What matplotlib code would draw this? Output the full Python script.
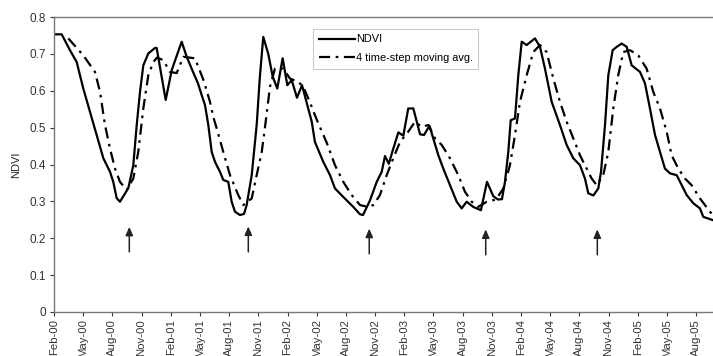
import numpy as np
import matplotlib
matplotlib.use("Agg")
import matplotlib.pyplot as plt

# =========================
# Data (x = months since Feb-2000)
# =========================
ndvi_month = [0.0, 0.79, 1.64, 2.33, 3.01, 3.70, 4.39, 5.07, 5.76, 6.09, 6.44, 6.78,
              7.64, 8.15, 8.50, 8.84, 9.18, 9.69, 10.38, 10.55, 11.48, 12.10, 13.12,
              13.64, 14.29, 14.80, 15.18, 15.52, 15.86, 16.21, 16.55, 17.06, 17.40,
              17.91, 18.26, 18.60, 19.12, 19.53, 19.80, 20.32, 20.83, 21.17, 21.51,
              22.02, 22.48, 22.95, 23.50, 23.98, 24.43, 24.97, 25.49, 26.00, 26.49,
              26.82, 27.68, 28.37, 28.88, 29.73, 30.76, 31.45, 31.76, 32.48, 33.17,
              33.68, 34.02, 34.41, 34.79, 35.39, 35.90, 36.41, 36.93, 37.62, 38.03,
              38.59, 39.10, 39.50, 40.01, 40.70, 41.39, 41.90, 42.41, 43.09, 43.88,
              44.50, 45.15, 45.63, 46.04, 46.35, 46.69, 46.94, 47.38, 47.72, 48.07,
              48.58, 49.43, 49.95, 50.46, 51.15, 52.00, 52.69, 53.37, 54.06, 54.57,
              54.91, 55.43, 55.94, 56.22, 56.63, 56.97, 57.42, 57.83, 58.35, 58.86,
              59.37, 60.23, 60.74, 61.25, 61.77, 62.28, 62.79, 63.31, 64.00, 64.51,
              65.03, 65.70, 66.39, 66.73, 67.73]
ndvi_value = [0.753, 0.753, 0.710, 0.678, 0.606, 0.543, 0.480, 0.417, 0.380, 0.353, 0.309, 0.299,
              0.336, 0.398, 0.507, 0.597, 0.669, 0.701, 0.716, 0.716, 0.575, 0.656, 0.733,
              0.692, 0.651, 0.620, 0.588, 0.561, 0.507, 0.434, 0.407, 0.380, 0.358,
              0.353, 0.299, 0.272, 0.263, 0.266, 0.290, 0.371, 0.507, 0.642, 0.746,
              0.700, 0.638, 0.606, 0.688, 0.615, 0.629, 0.581, 0.615, 0.565, 0.516,
              0.461, 0.407, 0.371, 0.335, 0.312, 0.285, 0.265, 0.263, 0.303, 0.353,
              0.380, 0.423, 0.402, 0.436, 0.487, 0.478, 0.552, 0.552, 0.482, 0.480,
              0.505, 0.460, 0.425, 0.389, 0.344, 0.299, 0.281, 0.299, 0.285, 0.276,
              0.353, 0.314, 0.305, 0.306, 0.353, 0.434, 0.520, 0.525, 0.642, 0.733,
              0.724, 0.742, 0.719, 0.660, 0.570, 0.507, 0.453, 0.417, 0.398, 0.362,
              0.322, 0.316, 0.335, 0.380, 0.507, 0.642, 0.710, 0.719, 0.728, 0.719,
              0.669, 0.651, 0.620, 0.552, 0.480, 0.434, 0.389, 0.376, 0.371, 0.344,
              0.317, 0.295, 0.281, 0.258, 0.249]

mavg_month = [1.47, 3.01, 4.21, 4.73, 5.24, 5.76, 6.27, 6.78, 7.47, 8.15, 8.66, 9.18,
              9.69, 10.21, 10.59, 11.23, 11.92, 12.61, 13.29, 14.49, 15.42, 16.03,
              16.37, 16.72, 17.40, 18.09, 18.94, 19.46, 20.32, 20.83, 21.35, 21.69,
              22.20, 22.71, 23.57, 24.25, 25.11, 25.62, 26.31, 27.03, 28.03, 28.88,
              29.73, 30.60, 31.45, 32.27, 32.82, 33.50, 34.19, 34.87, 35.56, 36.41,
              37.10, 37.79, 38.47, 39.16, 39.85, 40.70, 41.55, 42.24, 42.93, 43.61,
              44.47, 45.43, 46.18, 46.86, 47.38, 47.89, 48.58, 49.26, 49.95, 50.63,
              51.32, 52.00, 52.69, 53.37, 54.06, 54.57, 55.26, 55.77, 56.45, 56.97,
              57.48, 57.99, 58.51, 59.20, 60.05, 60.91, 61.59, 62.28, 62.97, 63.48,
              64.16, 64.85, 65.53, 66.39, 67.42, 67.73]
mavg_value = [0.742, 0.696, 0.651, 0.597, 0.507, 0.443, 0.389, 0.353, 0.331, 0.362, 0.434, 0.552,
              0.642, 0.678, 0.690, 0.683, 0.651, 0.648, 0.692, 0.688, 0.625, 0.570,
              0.529, 0.498, 0.434, 0.371, 0.317, 0.290, 0.308, 0.371, 0.434, 0.502,
              0.611, 0.660, 0.660, 0.633, 0.624, 0.611, 0.568, 0.520, 0.459, 0.398,
              0.353, 0.317, 0.290, 0.285, 0.290, 0.317, 0.371, 0.417, 0.461, 0.489,
              0.516, 0.502, 0.507, 0.471, 0.453, 0.417, 0.371, 0.326, 0.299, 0.285,
              0.299, 0.305, 0.335, 0.398, 0.480, 0.570, 0.642, 0.705, 0.724, 0.705,
              0.633, 0.570, 0.516, 0.471, 0.425, 0.398, 0.362, 0.344, 0.371, 0.434,
              0.552, 0.642, 0.705, 0.710, 0.696, 0.660, 0.597, 0.552, 0.489, 0.425,
              0.389, 0.362, 0.344, 0.308, 0.272, 0.262]

# arrows marking the minima (month position, tail value, tip value)
arrow_month = [7.74, 19.97, 32.4, 44.37, 55.84]
arrow_tail = [0.163, 0.163, 0.158, 0.155, 0.155]
arrow_tip = [0.231, 0.232, 0.226, 0.224, 0.224]

tick_labels = ["Feb-00", "May-00", "Aug-00", "Nov-00",
               "Feb-01", "May-01", "Aug-01", "Nov-01",
               "Feb-02", "May-02", "Aug-02", "Nov-02",
               "Feb-03", "May-03", "Aug-03", "Nov-03",
               "Feb-04", "May-04", "Aug-04", "Nov-04",
               "Feb-05", "May-05", "Aug-05"]
tick_months = [3 * i for i in range(len(tick_labels))]

# =========================
# Plot
# =========================
plt.rcParams["font.family"] = ["Liberation Sans", "DejaVu Sans"]

fig = plt.figure(figsize=(7.13, 3.56), dpi=100)
ax = fig.add_axes([54 / 713, 44 / 356, 659 / 713, 295 / 356])

ax.plot(ndvi_month, ndvi_value, color="black", lw=1.6, label="NDVI")
ax.plot(mavg_month, mavg_value, color="black", lw=1.6,
        dashes=(5, 2.5, 1.2, 2.5), label="4 time-step moving avg.")

for m, t0, t1 in zip(arrow_month, arrow_tail, arrow_tip):
    ax.annotate("", xy=(m, t1), xytext=(m, t0),
                arrowprops=dict(arrowstyle="-|>,head_length=0.5,head_width=0.22",
                                color="#222222", lw=1.1, shrinkA=0, shrinkB=0))

ax.set_xlim(0, 67.73)
ax.set_ylim(0, 0.8)
ax.set_yticks(np.arange(0, 0.81, 0.1))
ax.set_yticklabels(["0", "0.1", "0.2", "0.3", "0.4", "0.5", "0.6", "0.7", "0.8"])
ax.set_xticks(tick_months)
ax.set_xticklabels(tick_labels, rotation=90, ha="center", va="top")
ax.tick_params(axis="both", labelsize=8.5, colors="#333333", length=3, width=0.8)
ax.tick_params(axis="x", labelsize=8.2, pad=2)
ax.tick_params(axis="y", pad=3)
ax.set_ylabel("NDVI", fontsize=8, color="#222222", labelpad=6)

for side in ["left", "bottom", "top"]:
    ax.spines[side].set_color("#777777")
    ax.spines[side].set_linewidth(1.0)
ax.spines["right"].set_visible(False)

leg = ax.legend(loc="upper left", bbox_to_anchor=(0.385, 0.978), fontsize=7.9,
                handlelength=3.3, handletextpad=0.1, borderpad=0.5,
                labelspacing=0.8, fancybox=False, framealpha=1)
leg.get_frame().set_edgecolor("#cccccc")
leg.get_frame().set_linewidth(0.8)

fig.savefig("out.png", dpi=100)
